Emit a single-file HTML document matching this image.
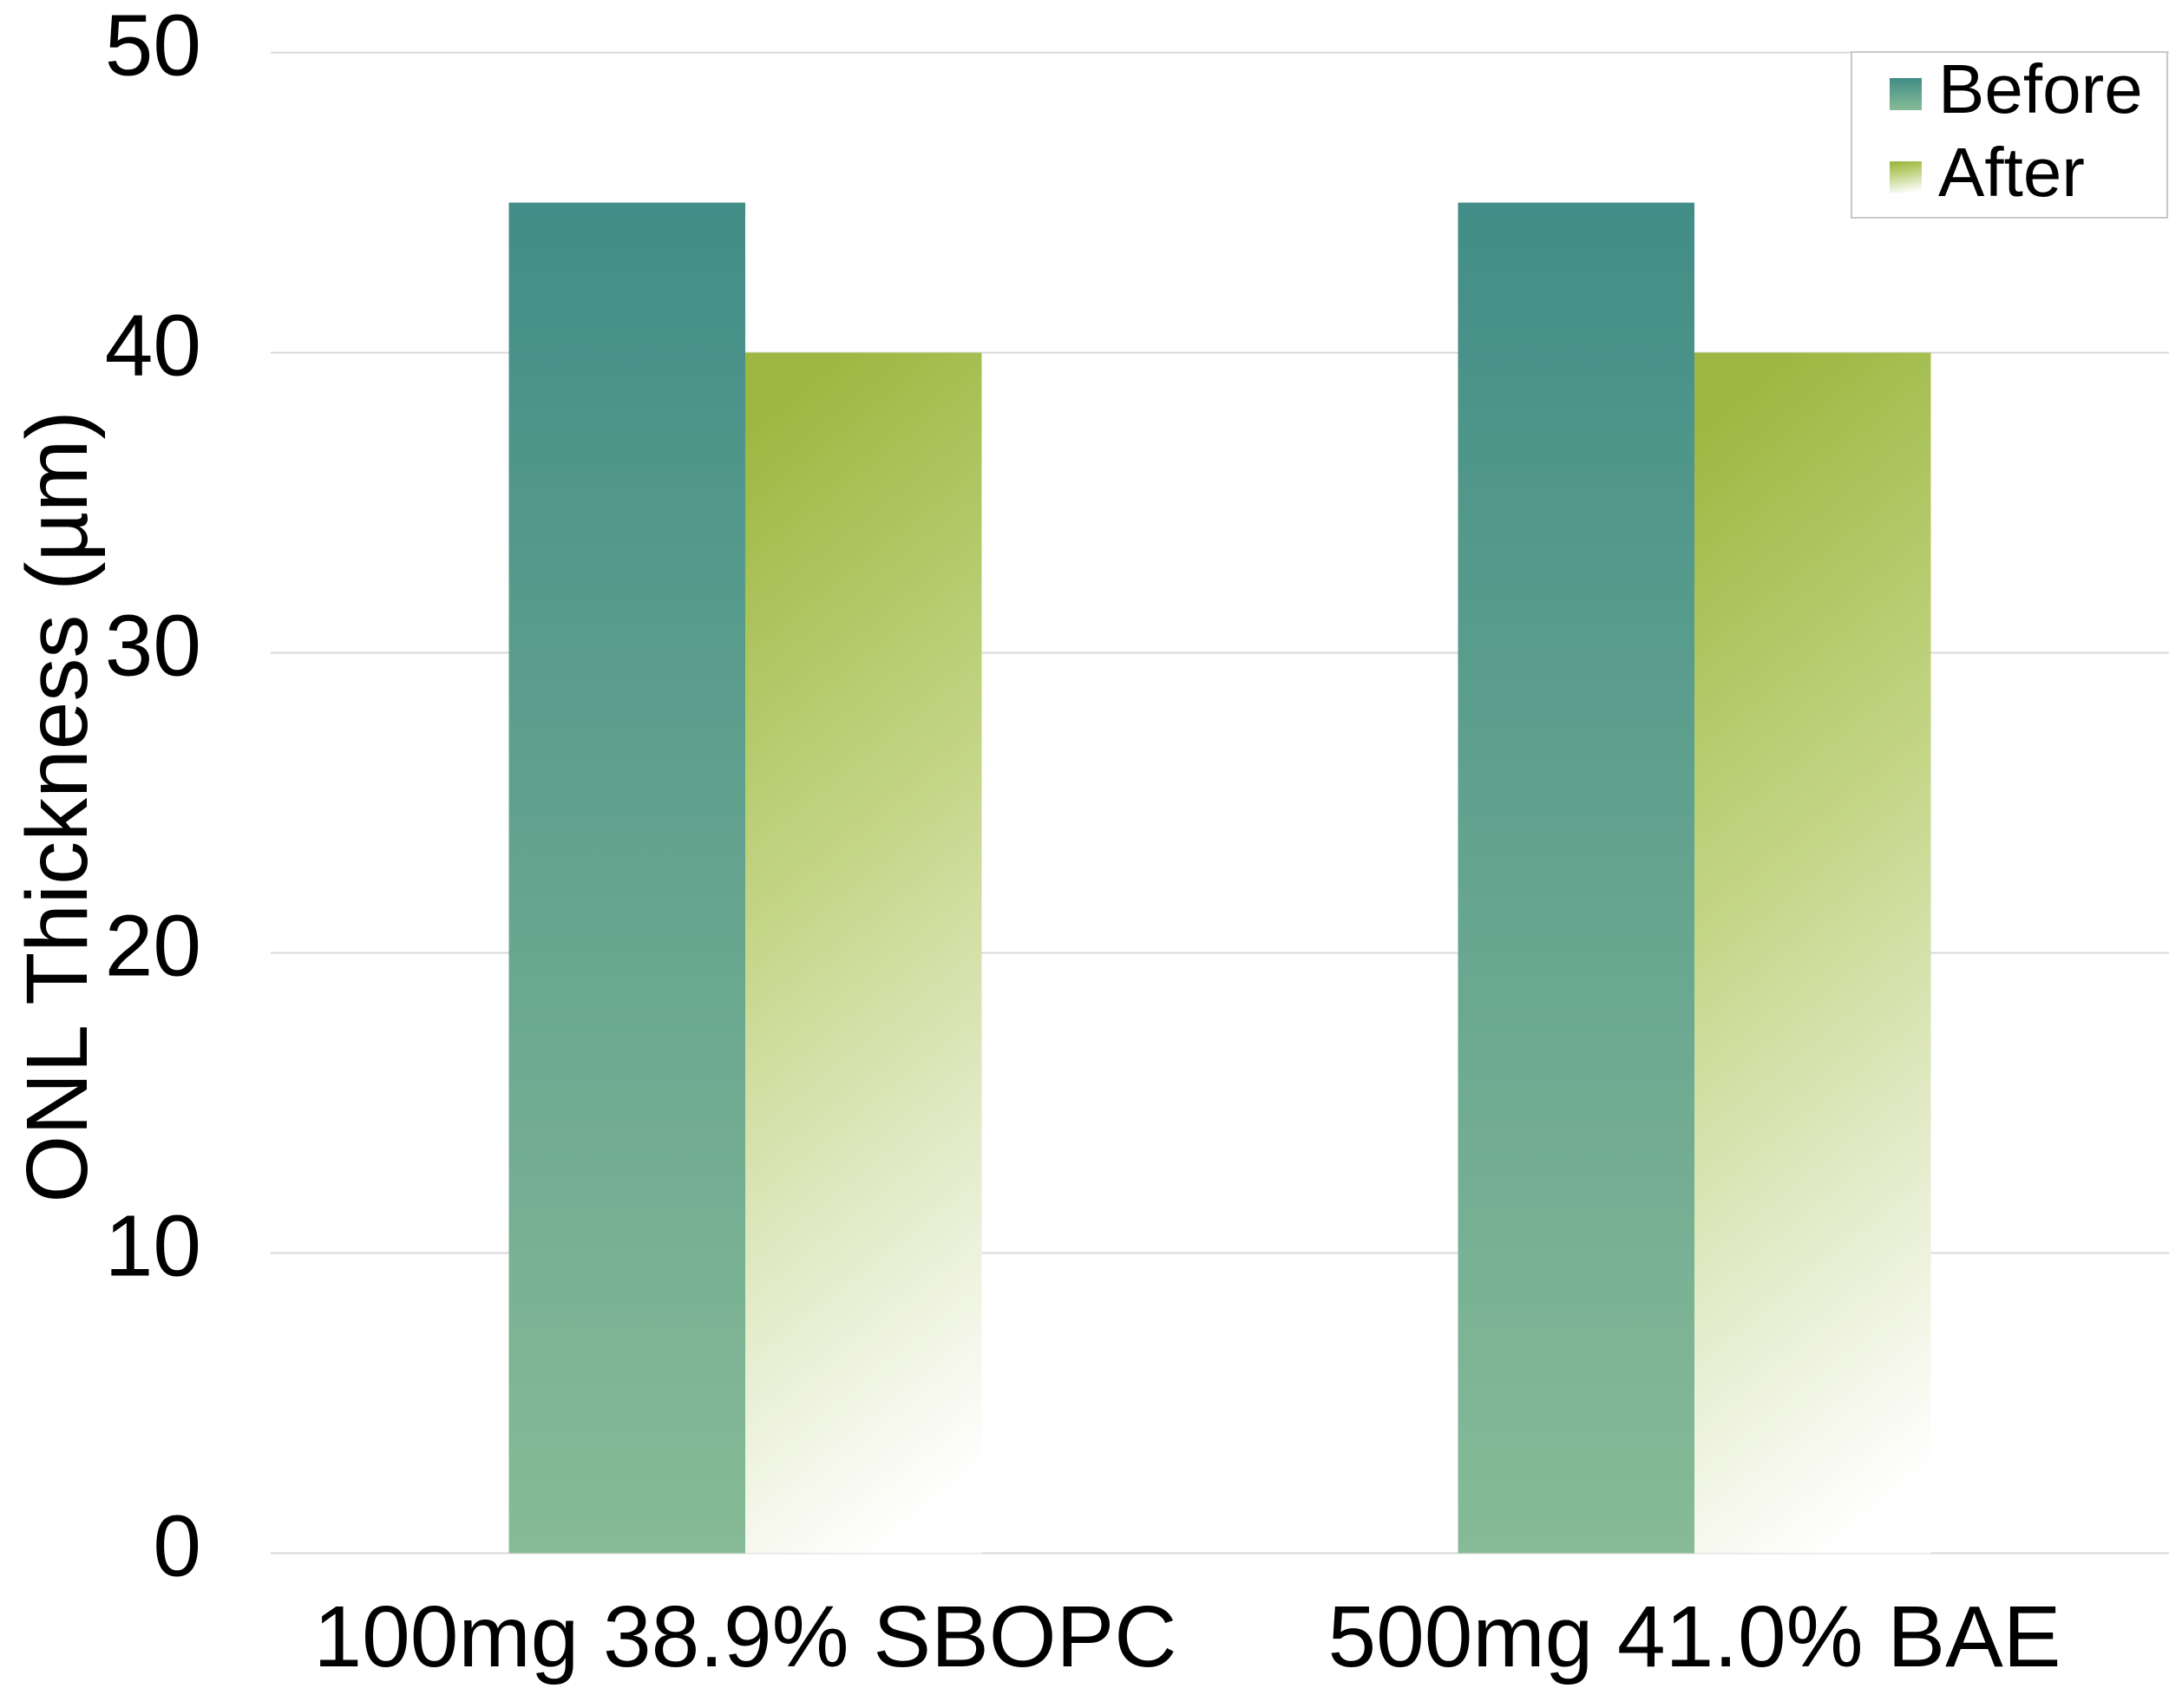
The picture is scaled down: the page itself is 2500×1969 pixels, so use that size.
<!DOCTYPE html>
<html><head><meta charset="utf-8"><style>
html,body{margin:0;padding:0;background:#fff;}
svg{display:block;font-family:"Liberation Sans",Arial,sans-serif;}
</style></head><body>
<svg id="chart" width="2500" height="1969" viewBox="0 0 2500 1969" xmlns="http://www.w3.org/2000/svg">
<defs>
<linearGradient id="gBefore" x1="0" y1="0" x2="0" y2="1">
<stop offset="0" stop-color="#428d87"/><stop offset="1" stop-color="#87bb97"/>
</linearGradient>
<linearGradient id="gAfter" x1="0.42" y1="0" x2="0.58" y2="1">
<stop offset="0" stop-color="#9db842"/><stop offset="0.4" stop-color="#c3d585"/><stop offset="0.75" stop-color="#e6edcf"/><stop offset="1" stop-color="#ffffff"/>
</linearGradient>
</defs>
<g id="grid"></g>
<g id="bars"></g>
<g id="yticks"></g>
<g id="xlabels"></g>
<text transform="translate(100,930) rotate(-90)" text-anchor="middle" font-size="100" fill="#000">ONL Thickness (µm)</text>
<g>
<rect x="2134" y="60" width="364" height="191" fill="#fff" stroke="#c8c8c8" stroke-width="2"/>
<g>
<rect x="2178" y="90" width="37" height="37" fill="url(#gBefore)"/>
<text x="2234" y="130" font-size="80" fill="#000">Before</text>
</g>
<g>
<rect x="2178" y="186" width="37" height="37" fill="url(#gAfter)"/>
<text x="2234" y="226" font-size="80" fill="#000">After</text>
</g>
</g>
</svg>
<script>
const categories = ["100mg 38.9% SBOPC", "500mg 41.0% BAE"];
const beforeValues = [45, 45];
const afterValues = [40, 40];
const yTicks = [0, 10, 20, 30, 40, 50];

const NS = "http://www.w3.org/2000/svg";
const plotLeft = 312, plotRight = 2500, y0 = 1790.5, yTop = 60.6, yMax = 50;
function yScale(v){ return y0 - (v / yMax) * (y0 - yTop); }
const groupW = (plotRight - plotLeft) / categories.length;
const barW = 272.5;
function groupCenter(i){ return plotLeft + groupW * (i + 0.5); }
function mk(tag, attrs){ const e = document.createElementNS(NS, tag); for (const k in attrs) e.setAttribute(k, attrs[k]); return e; }

const grid = document.getElementById('grid');
const yt = document.getElementById('yticks');
yTicks.forEach(t => {
  const l = mk('line', {x1: plotLeft, x2: plotRight, y1: yScale(t), y2: yScale(t), stroke: '#d9d9d9', 'stroke-width': 2});
  
  
  grid.appendChild(l);
  const tx = mk('text', {x: 232, y: yScale(t) + 26, 'text-anchor': 'end', 'font-size': 100, fill: '#000'});
  tx.textContent = t;
  
  
  yt.appendChild(tx);
});

const bars = document.getElementById('bars');
const xl = document.getElementById('xlabels');
categories.forEach((c, i) => {
  const cx = groupCenter(i);
  const b = mk('rect', {x: cx - barW, y: yScale(beforeValues[i]), width: barW, height: y0 - yScale(beforeValues[i]), fill: 'url(#gBefore)'});
  
  
  bars.appendChild(b);
  const a = mk('rect', {x: cx, y: yScale(afterValues[i]), width: barW, height: y0 - yScale(afterValues[i]), fill: 'url(#gAfter)'});
  
  
  bars.appendChild(a);
  const t = mk('text', {x: cx, y: 1921, 'text-anchor': 'middle', 'font-size': 100, fill: '#000', textLength: 0});
  t.removeAttribute('textLength');
  t.textContent = c;
  
  
  xl.appendChild(t);
});
</script>
</body></html>
